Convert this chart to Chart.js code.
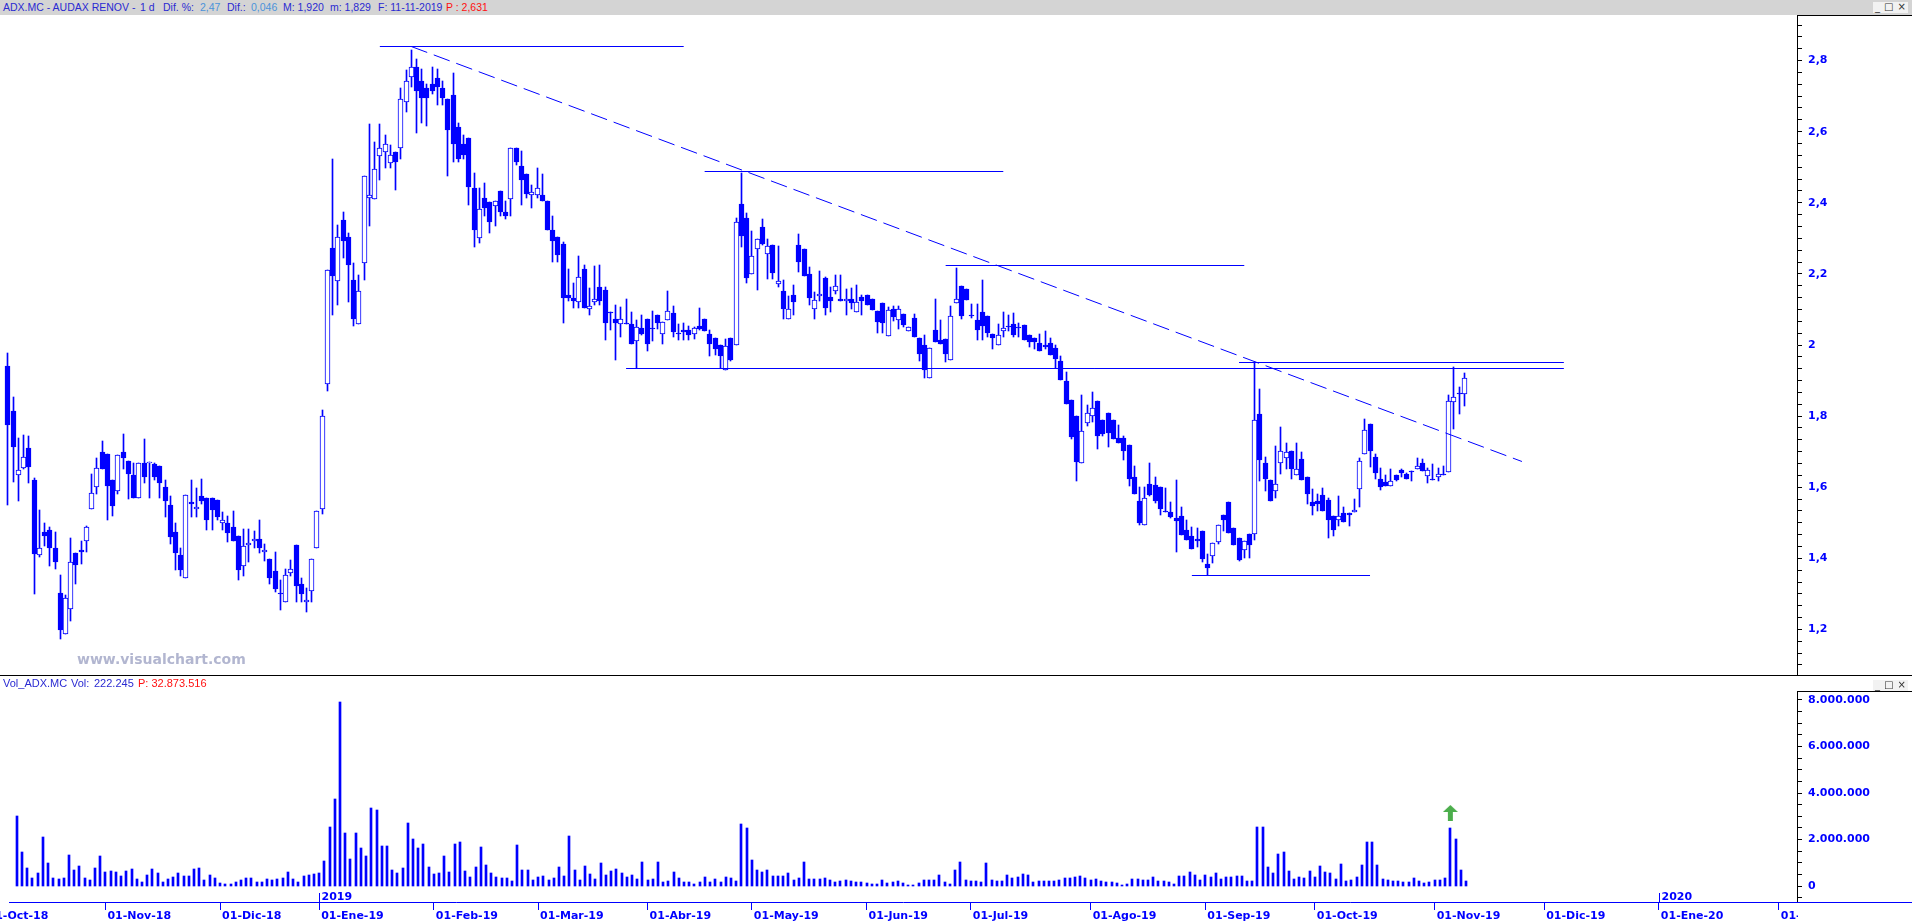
<!DOCTYPE html>
<html lang="es">
<head>
  <meta charset="UTF-8" />
  <title>ADX.MC - AUDAX RENOV</title>
  <script src="https://cdn.jsdelivr.net/npm/chart.js"></script>
  <style>
    html, body { margin: 0; padding: 0; background: #fff; }
    body { position: relative; width: 1912px; height: 922px; overflow: hidden; font-family: "Liberation Sans", Arial, sans-serif; }
    .head { position: absolute; left: 0; width: 1912px; height: 15px; font-size: 10.5px; line-height: 15px; white-space: pre; color: #2a2ad2; }
    .head span { position: absolute; top: 0; }
    #priceHead { top: 0; background: #d4d4d4; }
    #volHead { top: 676px; font-size: 11px; }
    .head .v { color: #4b93da; }
    .head .r { color: #ff1010; }
    .btns { position: absolute; left: 1873px; width: 35px; height: 11px; background: #f2f2f2; color: #333;
            font: 10px "DejaVu Sans", sans-serif; line-height: 10px; display: flex; justify-content: space-around; }
    canvas { position: absolute; left: 0; }
    #price { top: 15px; }
    #vol { top: 676px; }
    #sep { position: absolute; left: 0; top: 675px; width: 1912px; height: 1px; background: #000; }
    #mark { position: absolute; left: 77px; top: 651px; font: bold 14px "DejaVu Sans", sans-serif; color: #b2b6d0; }
  </style>
</head>
<body>
  <div id="priceHead" class="head">
    <span style="left:3px">ADX.MC - AUDAX RENOV -</span>
    <span style="left:140px">1 d</span>
    <span style="left:163px">Dif. %:</span>
    <span class="v" style="left:200px">2,47</span>
    <span style="left:227px">Dif.:</span>
    <span class="v" style="left:251px">0,046</span>
    <span style="left:283px">M: 1,920</span>
    <span style="left:330px">m: 1,829</span>
    <span style="left:378px">F: 11-11-2019</span>
    <span class="r" style="left:446px">P : 2,631</span>
  </div>
  <div class="btns" style="top:2px"><span>_</span><span>□</span><span>×</span></div>
  <canvas id="price" width="1912" height="660"></canvas>
  <div id="sep"></div>
  <canvas id="vol" width="1912" height="246"></canvas>
  <div id="volHead" class="head">
    <span style="left:3px">Vol_ADX.MC</span>
    <span style="left:71px">Vol:</span>
    <span style="left:94px">222.245</span>
    <span class="r" style="left:138px">P: 32.873.516</span>
  </div>
  <div class="btns" style="top:680px"><span>_</span><span>□</span><span>×</span></div>
  <div id="mark">www.visualchart.com</div>

  <script>
    const BLUE = '#0000ff';
    const MESES = ['Ene', 'Feb', 'Mar', 'Abr', 'May', 'Jun', 'Jul', 'Ago', 'Sep', 'Oct', 'Nov', 'Dic'];

    // sesiones del mercado continuo (festivos sin sesion) y dias laborables futuros
    const festivos = ['2018-12-25', '2018-12-26', '2019-01-01', '2019-04-19', '2019-04-22', '2019-05-01'];
    const dates = [];
    for (let d = new Date(Date.UTC(2018, 9, 1)); d <= new Date(Date.UTC(2020, 1, 6)); d.setUTCDate(d.getUTCDate() + 1)) {
      const iso = d.toISOString().slice(0, 10);
      const wd = d.getUTCDay();
      if (wd === 0 || wd === 6 || festivos.includes(iso)) continue;
      dates.push(iso);
    }
    const firstSession = '2018-10-09';
    const viewFrom = '2018-10-08';
    const viewTo = '2020-02-06';

    // velas diarias 09-10-2018 .. 11-11-2019
    const open = [
      1.942,1.815,1.634,1.654,1.710,1.621,1.408,1.475,1.480,1.429,
      1.303,1.186,1.257,1.415,1.424,1.448,1.538,1.600,1.700,1.694,
      1.621,1.588,1.700,1.675,1.635,1.569,1.668,1.667,1.666,1.660,
      1.601,1.551,1.475,1.410,1.346,1.559,1.538,1.575,1.569,1.569,
      1.564,1.499,1.500,1.488,1.463,1.378,1.437,1.448,1.455,1.417,
      1.398,1.365,1.302,1.276,1.358,1.437,1.327,1.276,1.308,1.429,
      1.538,1.891,2.272,2.179,2.352,2.303,2.182,2.059,2.231,2.413,
      2.411,2.533,2.544,2.513,2.544,2.553,2.684,2.753,2.783,2.743,
      2.724,2.733,2.752,2.724,2.693,2.704,2.614,2.564,2.583,2.443,
      2.302,2.413,2.403,2.392,2.432,2.373,2.412,2.553,2.503,2.482,
      2.423,2.423,2.423,2.404,2.323,2.303,2.283,2.141,2.131,2.122,
      2.213,2.102,2.122,2.162,2.154,2.092,2.072,2.060,2.061,2.060,
      2.012,2.049,2.072,2.048,2.083,2.031,2.069,2.091,2.034,2.041,
      2.041,2.031,2.054,2.074,2.031,2.020,2.000,1.930,2.020,2.000,
      2.396,2.358,2.200,2.271,2.333,2.257,2.282,2.172,2.153,2.074,
      2.142,2.282,2.271,2.200,2.101,2.138,2.189,2.136,2.153,2.130,
      2.124,2.130,2.093,2.134,2.142,2.130,2.096,2.119,2.026,2.101,
      2.070,2.088,2.040,2.076,2.020,2.000,1.907,2.043,2.015,2.017,
      1.958,2.119,2.167,2.158,2.083,2.071,2.093,2.082,2.031,2.000,
      2.040,2.054,2.060,2.049,2.057,2.029,2.020,2.006,2.001,2.006,
      1.992,1.954,1.900,1.844,1.801,1.668,1.781,1.800,1.843,1.789,
      1.809,1.789,1.739,1.739,1.719,1.629,1.562,1.493,1.610,1.606,
      1.601,1.531,1.530,1.514,1.519,1.481,1.463,1.454,1.477,1.385,
      1.406,1.447,1.522,1.558,1.486,1.458,1.422,1.469,1.468,1.807,
      1.669,1.621,1.589,1.668,1.682,1.703,1.634,1.680,1.630,1.559,
      1.562,1.578,1.565,1.520,1.508,1.527,1.527,1.530,1.596,1.693,
      1.778,1.685,1.624,1.615,1.603,1.634,1.648,1.637,1.645,1.651,
      1.668,1.631,1.620,1.629,1.637,1.643,1.840,1.862,1.861
    ];
    const high = [
      1.977,1.853,1.738,1.748,1.745,1.625,1.537,1.500,1.489,1.475,
      1.354,1.297,1.458,1.415,1.449,1.492,1.637,1.683,1.731,1.694,
      1.621,1.691,1.751,1.675,1.669,1.668,1.737,1.672,1.669,1.660,
      1.621,1.576,1.500,1.429,1.578,1.621,1.599,1.624,1.569,1.569,
      1.564,1.531,1.520,1.533,1.463,1.483,1.483,1.476,1.508,1.440,
      1.398,1.418,1.339,1.370,1.396,1.437,1.345,1.317,1.398,1.533,
      1.818,2.212,2.522,2.338,2.373,2.314,2.232,2.198,2.474,2.621,
      2.570,2.621,2.590,2.562,2.544,2.722,2.773,2.831,2.804,2.776,
      2.733,2.783,2.776,2.743,2.693,2.764,2.625,2.592,2.583,2.483,
      2.442,2.455,2.403,2.404,2.432,2.404,2.553,2.553,2.545,2.482,
      2.451,2.499,2.482,2.404,2.362,2.303,2.291,2.213,2.174,2.249,
      2.224,2.159,2.221,2.224,2.162,2.092,2.112,2.108,2.128,2.092,
      2.069,2.083,2.072,2.097,2.083,2.065,2.151,2.110,2.059,2.061,
      2.054,2.052,2.103,2.074,2.041,2.020,2.000,2.017,2.020,2.357,
      2.483,2.372,2.320,2.299,2.353,2.299,2.282,2.279,2.182,2.137,
      2.169,2.312,2.271,2.220,2.149,2.209,2.192,2.164,2.198,2.198,
      2.157,2.160,2.170,2.140,2.142,2.130,2.096,2.119,2.107,2.110,
      2.109,2.088,2.051,2.088,2.020,2.029,1.992,2.130,2.071,2.017,
      2.110,2.217,2.167,2.158,2.116,2.116,2.182,2.082,2.031,2.058,
      2.094,2.085,2.089,2.062,2.057,2.029,2.020,2.031,2.040,2.020,
      2.000,1.970,1.923,1.844,1.801,1.858,1.831,1.869,1.843,1.789,
      1.809,1.789,1.775,1.743,1.719,1.659,1.601,1.600,1.669,1.629,
      1.601,1.599,1.558,1.621,1.545,1.508,1.487,1.485,1.477,1.412,
      1.443,1.493,1.522,1.558,1.486,1.458,1.448,1.469,1.952,1.877,
      1.686,1.621,1.717,1.768,1.724,1.703,1.724,1.700,1.630,1.596,
      1.581,1.599,1.569,1.520,1.576,1.543,1.527,1.568,1.683,1.792,
      1.778,1.693,1.655,1.634,1.652,1.634,1.652,1.640,1.645,1.682,
      1.680,1.654,1.665,1.654,1.661,1.858,1.939,1.881,1.920
    ];
    const low = [
      1.551,1.616,1.560,1.650,1.611,1.301,1.405,1.435,1.379,1.371,
      1.174,1.186,1.225,1.329,1.385,1.419,1.538,1.580,1.650,1.509,
      1.520,1.580,1.650,1.566,1.571,1.569,1.611,1.571,1.621,1.571,
      1.515,1.439,1.366,1.349,1.346,1.515,1.515,1.552,1.480,1.480,
      1.508,1.480,1.445,1.449,1.340,1.349,1.391,1.430,1.415,1.393,
      1.329,1.304,1.256,1.276,1.350,1.276,1.277,1.250,1.278,1.429,
      1.525,1.872,2.084,2.112,2.245,2.122,2.053,2.059,2.183,2.335,
      2.411,2.464,2.497,2.497,2.435,2.524,2.656,2.725,2.596,2.625,
      2.615,2.705,2.676,2.676,2.475,2.516,2.516,2.524,2.393,2.275,
      2.286,2.363,2.315,2.335,2.363,2.355,2.363,2.505,2.394,2.414,
      2.385,2.414,2.405,2.324,2.233,2.233,2.062,2.125,2.103,2.103,
      2.104,2.085,2.112,2.112,2.014,2.042,1.958,2.022,2.058,2.002,
      1.934,2.028,1.983,2.012,2.044,2.002,2.069,2.022,2.015,2.014,
      2.015,2.016,2.043,2.039,1.969,1.971,1.934,1.930,1.954,2.000,
      2.277,2.175,2.200,2.155,2.282,2.185,2.185,2.163,2.073,2.074,
      2.084,2.206,2.195,2.112,2.073,2.123,2.084,2.092,2.143,2.124,
      2.084,2.101,2.093,2.084,2.113,2.098,2.033,2.033,2.026,2.067,
      2.045,2.050,2.040,2.023,1.954,1.907,1.907,2.008,2.003,1.952,
      1.958,2.119,2.073,2.126,2.075,2.015,2.015,2.022,1.988,2.000,
      2.022,2.039,2.022,2.022,2.015,1.994,1.988,1.983,1.988,1.971,
      1.935,1.902,1.834,1.735,1.617,1.668,1.772,1.784,1.707,1.743,
      1.712,1.735,1.723,1.676,1.602,1.580,1.495,1.493,1.574,1.555,
      1.521,1.529,1.512,1.419,1.465,1.451,1.425,1.433,1.391,1.352,
      1.387,1.440,1.477,1.471,1.437,1.393,1.400,1.400,1.451,1.618,
      1.590,1.560,1.571,1.637,1.651,1.622,1.634,1.619,1.552,1.521,
      1.532,1.532,1.457,1.462,1.491,1.502,1.491,1.530,1.543,1.693,
      1.656,1.623,1.591,1.602,1.603,1.617,1.629,1.622,1.617,1.651,
      1.647,1.611,1.619,1.617,1.634,1.643,1.764,1.806,1.829
    ];
    const close = [
      1.776,1.712,1.648,1.685,1.656,1.412,1.429,1.462,1.430,1.391,
      1.199,1.288,1.390,1.381,1.419,1.488,1.584,1.654,1.650,1.602,
      1.546,1.691,1.681,1.636,1.571,1.668,1.630,1.669,1.630,1.611,
      1.560,1.461,1.416,1.366,1.578,1.552,1.544,1.560,1.507,1.535,
      1.515,1.507,1.470,1.449,1.366,1.434,1.444,1.454,1.430,1.423,
      1.346,1.315,1.300,1.353,1.370,1.323,1.301,1.282,1.398,1.533,
      1.801,2.212,2.195,2.303,2.293,2.224,2.073,2.153,2.474,2.422,
      2.494,2.553,2.564,2.534,2.516,2.693,2.743,2.783,2.715,2.695,
      2.695,2.715,2.725,2.695,2.605,2.566,2.523,2.535,2.444,2.324,
      2.383,2.384,2.345,2.404,2.374,2.363,2.553,2.516,2.465,2.425,
      2.431,2.443,2.405,2.324,2.293,2.254,2.132,2.132,2.123,2.192,
      2.104,2.110,2.130,2.124,2.062,2.090,2.062,2.072,2.059,2.002,
      2.051,2.030,2.002,2.046,2.062,2.065,2.096,2.036,2.031,2.037,
      2.029,2.048,2.046,2.039,2.002,1.988,1.969,1.998,1.957,2.347,
      2.307,2.189,2.251,2.299,2.285,2.279,2.202,2.181,2.101,2.101,
      2.121,2.233,2.195,2.132,2.127,2.144,2.105,2.124,2.167,2.124,
      2.130,2.119,2.121,2.124,2.113,2.098,2.064,2.061,2.099,2.078,
      2.101,2.056,2.051,2.023,1.974,1.929,1.992,2.008,2.003,1.974,
      2.082,2.130,2.082,2.126,2.081,2.043,2.054,2.033,2.019,2.029,
      2.048,2.050,2.028,2.047,2.015,2.008,2.008,1.983,1.993,1.971,
      1.960,1.902,1.834,1.740,1.670,1.758,1.809,1.823,1.743,1.750,
      1.752,1.735,1.723,1.701,1.622,1.580,1.500,1.569,1.579,1.560,
      1.540,1.530,1.515,1.506,1.465,1.451,1.425,1.448,1.398,1.372,
      1.443,1.493,1.509,1.471,1.437,1.396,1.448,1.437,1.789,1.676,
      1.622,1.560,1.609,1.703,1.699,1.651,1.651,1.619,1.580,1.546,
      1.554,1.532,1.509,1.481,1.520,1.502,1.521,1.536,1.673,1.760,
      1.702,1.640,1.600,1.602,1.617,1.619,1.640,1.622,1.644,1.660,
      1.647,1.648,1.619,1.637,1.634,1.843,1.855,1.861,1.908
    ];
    // volumen en millones de titulos
    const volumeM = [
      3.01,1.46,0.77,0.34,0.56,2.11,0.99,0.34,0.30,0.34,
      1.33,0.69,0.86,0.34,0.26,0.77,1.29,0.60,0.65,0.60,
      0.43,0.65,0.73,0.30,0.17,0.47,0.73,0.56,0.17,0.30,
      0.39,0.56,0.43,0.43,0.73,0.77,0.26,0.47,0.34,0.13,
      0.09,0.09,0.17,0.26,0.34,0.34,0.17,0.17,0.30,0.26,
      0.30,0.34,0.60,0.30,0.17,0.43,0.47,0.52,0.56,1.08,
      2.54,3.74,7.92,2.28,1.16,2.28,1.64,1.29,3.36,3.27,
      1.72,1.72,0.69,0.56,0.77,2.71,2.02,1.64,1.81,0.82,
      0.52,0.56,1.29,0.60,1.81,1.89,0.65,0.39,0.82,1.68,
      0.90,0.56,0.39,0.34,0.34,0.22,1.76,0.69,0.69,0.26,
      0.39,0.43,0.26,0.34,0.82,0.43,2.15,0.69,0.26,0.86,
      0.52,0.30,0.99,0.47,0.65,0.73,0.56,0.39,0.47,0.30,
      1.03,0.26,0.30,1.03,0.17,0.22,0.60,0.34,0.17,0.17,
      0.09,0.17,0.39,0.17,0.30,0.17,0.39,0.34,0.22,2.67,
      2.50,1.12,0.69,0.60,0.69,0.43,0.43,0.43,0.56,0.26,
      0.34,1.03,0.30,0.30,0.30,0.34,0.26,0.17,0.22,0.26,
      0.22,0.17,0.17,0.13,0.09,0.09,0.26,0.13,0.17,0.22,
      0.13,0.04,0.04,0.13,0.26,0.26,0.26,0.47,0.17,0.09,
      0.69,1.03,0.26,0.22,0.22,0.17,0.99,0.26,0.22,0.22,
      0.47,0.34,0.39,0.52,0.47,0.17,0.22,0.22,0.22,0.22,
      0.26,0.34,0.34,0.39,0.43,0.34,0.26,0.30,0.22,0.17,
      0.17,0.13,0.04,0.09,0.30,0.30,0.26,0.26,0.39,0.22,
      0.22,0.17,0.09,0.43,0.43,0.60,0.47,0.26,0.47,0.39,
      0.56,0.30,0.39,0.39,0.43,0.43,0.22,0.22,2.54,2.54,
      0.82,0.56,1.38,1.46,0.65,0.30,0.39,0.34,0.65,0.39,
      0.86,0.60,0.56,0.30,0.95,0.22,0.26,0.39,0.90,1.89,
      1.89,0.90,0.30,0.26,0.22,0.22,0.17,0.17,0.34,0.22,
      0.13,0.17,0.26,0.26,0.34,2.50,2.02,0.69,0.222
    ];

    // lineas dibujadas sobre el grafico
    const levelFrom  = ['2019-01-21', '2019-04-17', '2019-06-25', '2019-03-27', '2019-09-11', '2019-08-29'];
    const levelTo    = ['2019-04-11', '2019-07-10', '2019-09-12', '2019-12-06', '2019-12-06', '2019-10-16'];
    const levelValue = [2.840, 2.489, 2.224, 1.933, 1.950, 1.352];
    const trendDates  = ['2019-01-29', '2019-11-26'];
    const trendValues = [2.840, 1.671];
    const arrowDate = '2019-11-06';
    const arrowLevel = 3.14e6;

    // ejes
    const priceRange = [1.0718, 2.9282];
    const priceTickValues = [1.2, 1.4, 1.6, 1.8, 2, 2.2, 2.4, 2.6, 2.8];
    const priceTickLabels = ['1,2', '1,4', '1,6', '1,8', '2', '2,2', '2,4', '2,6', '2,8'];
    const priceMinorPerMajor = 6;
    const volRange = [-0.688e6, 8.387e6];
    const volTickValues = [0, 2e6, 4e6, 6e6, 8e6];
    const volTickLabels = ['0', '2.000.000', '4.000.000', '6.000.000', '8.000.000'];
    const volMinorPerMajor = 4;

    const AXIS_FONT = { family: '"DejaVu Sans", sans-serif', size: 11, weight: 'bold' };
    Chart.defaults.font.family = '"DejaVu Sans", sans-serif';

    const x0 = dates.indexOf(firstSession);
    const xMin = dates.indexOf(viewFrom) - 0.5;
    const xMax = dates.indexOf(viewTo) + 0.5;

    const monthStarts = [];
    dates.forEach((d, i) => {
      if (i === 0 || d.slice(5, 7) !== dates[i - 1].slice(5, 7)) monthStarts.push(i);
    });
    const yearStarts = monthStarts.filter(i => dates[i].slice(5, 7) === '01');
    function monthLabel(v) {
      const d = dates[Math.round(v)];
      return d ? '01-' + MESES[+d.slice(5, 7) - 1] + '-' + d.slice(2, 4) : '';
    }

    function tickSet(range, values, perMajor) {
      const step = (values[1] - values[0]) / perMajor;
      const out = [];
      for (let k = Math.ceil(range[0] / step - 1e-9); k * step <= range[1] + 1e-9; k++) out.push({ value: k * step });
      return out;
    }
    function tickText(values, labels, v) {
      const step = values[1] - values[0];
      const i = values.findIndex(t => Math.abs(t - v) < step * 1e-4);
      return i < 0 ? '' : labels[i];
    }
    // el eje vertical ocupa la franja derecha completa, sin margenes extra
    function fitRightAxis(s) {
      s.width = 115;
      s.paddingTop = 0;
      s.paddingBottom = 0;
    }

    // ajusta barras y lineas a la rejilla de pixeles para trazos nitidos
    const snap = {
      id: 'snap',
      afterDatasetsUpdate(chart) {
        chart.data.datasets.forEach((ds, di) => {
          const meta = chart.getDatasetMeta(di);
          if (meta.type === 'bar') {
            const odd = ds.barThickness % 2 === 1;
            meta.data.forEach(el => {
              el.x = odd ? Math.floor(el.x) + 0.5 : Math.round(el.x);
              let top = Math.round(el.y), base = Math.round(el.base);
              if (top === base) base = top + 1;
              el.y = top; el.base = base;
            });
          } else if (meta.type === 'line') {
            meta.data.forEach(el => { el.y = Math.floor(el.y) + 0.5; });
          }
        });
      }
    };

    // marco superior del eje vertical
    const axisFrame = {
      id: 'axisFrame',
      afterDraw(chart) {
        const { ctx, chartArea } = chart;
        ctx.save();
        ctx.strokeStyle = '#000';
        ctx.lineWidth = 1;
        ctx.beginPath();
        ctx.moveTo(chartArea.right, chartArea.top + 0.5);
        ctx.lineTo(chart.width, chartArea.top + 0.5);
        ctx.stroke();
        ctx.restore();
      }
    };

    // recorte de fechas bajo el eje, linea inferior y marcas de año
    const volDecor = {
      id: 'volDecor',
      afterDraw(chart) {
        const { ctx, chartArea, scales } = chart;
        ctx.save();
        ctx.fillStyle = '#fff';
        ctx.fillRect(chartArea.right + 1, chartArea.bottom + 1, chart.width, chart.height);
        ctx.strokeStyle = BLUE;
        ctx.lineWidth = 1;
        ctx.beginPath();
        ctx.moveTo(chartArea.right, chartArea.bottom + 0.5);
        ctx.lineTo(chart.width, chartArea.bottom + 0.5);
        ctx.stroke();
        ctx.fillStyle = BLUE;
        ctx.font = 'bold 11px "DejaVu Sans", sans-serif';
        ctx.textBaseline = 'alphabetic';
        yearStarts.forEach(i => {
          const px = Math.round(scales.x.getPixelForValue(i)) + 0.5;
          ctx.beginPath();
          ctx.moveTo(px, chartArea.bottom);
          ctx.lineTo(px, chartArea.bottom - 9);
          ctx.stroke();
          ctx.fillText(dates[i].slice(0, 4), px + 2, chartArea.bottom - 2);
        });
        ctx.restore();
      }
    };

    const xHidden = { type: 'linear', min: xMin, max: xMax, offset: false, display: false, grid: { offset: false } };

    const lineSets = levelValue.map((v, i) => ({
      type: 'line',
      data: [{ x: dates.indexOf(levelFrom[i]), y: v }, { x: dates.indexOf(levelTo[i]), y: v }],
      borderColor: BLUE, borderWidth: 1, pointRadius: 0, fill: false, order: 0
    }));
    lineSets.push({
      type: 'line',
      data: trendDates.map((d, i) => ({ x: dates.indexOf(d), y: trendValues[i] })),
      borderColor: BLUE, borderWidth: 1, borderDash: [17, 7], pointRadius: 0, fill: false, order: 0
    });

    new Chart(document.getElementById('price'), {
      type: 'bar',
      data: {
        datasets: [
          ...lineSets,
          {
            label: 'Cuerpo',
            data: open.map((o, i) => ({ x: x0 + i, y: [o, close[i]] })),
            backgroundColor: open.map((o, i) => close[i] >= o ? '#ffffff' : BLUE),
            borderColor: BLUE, borderWidth: 1, borderSkipped: false,
            barThickness: 5, grouped: false, minBarLength: 1, order: 1
          },
          {
            label: 'Mecha',
            data: open.map((o, i) => ({ x: x0 + i, y: [low[i], high[i]] })),
            backgroundColor: BLUE, borderWidth: 0,
            barThickness: 1, grouped: false, order: 2
          }
        ]
      },
      options: {
        responsive: false,
        animation: false,
        events: [],
        layout: { padding: 0 },
        plugins: { legend: { display: false }, tooltip: { enabled: false } },
        scales: {
          x: xHidden,
          y: {
            position: 'right', min: priceRange[0], max: priceRange[1],
            afterFit: fitRightAxis,
            afterBuildTicks: s => { s.ticks = tickSet(priceRange, priceTickValues, priceMinorPerMajor); },
            ticks: {
              autoSkip: false, padding: 6, color: BLUE, font: AXIS_FONT,
              callback: v => tickText(priceTickValues, priceTickLabels, v)
            },
            grid: { drawOnChartArea: false, tickLength: 5, color: '#000' },
            border: { display: true, color: '#000', width: 1 }
          }
        }
      },
      plugins: [snap, axisFrame]
    });

    const arrow = document.createElement('canvas');
    arrow.width = 15; arrow.height = 16;
    const a = arrow.getContext('2d');
    a.fillStyle = '#4cae4c';
    a.beginPath();
    a.moveTo(7.5, 0); a.lineTo(15, 7); a.lineTo(10, 7); a.lineTo(10, 16);
    a.lineTo(5, 16); a.lineTo(5, 7); a.lineTo(0, 7); a.closePath();
    a.fill();

    new Chart(document.getElementById('vol'), {
      type: 'bar',
      data: {
        datasets: [
          {
            type: 'scatter',
            data: [{ x: dates.indexOf(arrowDate), y: arrowLevel }],
            pointStyle: arrow, pointRadius: 8, order: 0
          },
          {
            label: 'Volumen',
            data: volumeM.map((v, i) => ({ x: x0 + i, y: v * 1e6 })),
            backgroundColor: BLUE, borderWidth: 0,
            barThickness: 2, grouped: false, order: 1
          }
        ]
      },
      options: {
        responsive: false,
        animation: false,
        events: [],
        layout: { padding: { top: 15, left: 0, right: 0, bottom: 0 } },
        plugins: { legend: { display: false }, tooltip: { enabled: false } },
        scales: {
          x: {
            type: 'linear', min: xMin, max: xMax, offset: false,
            afterBuildTicks: s => { s.ticks = monthStarts.map(v => ({ value: v })); },
            afterFit: s => { s.height = 20; s.paddingLeft = 0; s.paddingRight = 0; },
            ticks: {
              autoSkip: false, maxRotation: 0, minRotation: 0, align: 'start',
              labelOffset: 2, padding: 0, color: BLUE, font: AXIS_FONT,
              callback: v => monthLabel(v)
            },
            grid: { offset: false, drawOnChartArea: false, tickLength: 8, color: BLUE },
            border: { display: true, color: BLUE, width: 1 }
          },
          y: {
            position: 'right', min: volRange[0], max: volRange[1],
            afterFit: fitRightAxis,
            afterBuildTicks: s => { s.ticks = tickSet(volRange, volTickValues, volMinorPerMajor); },
            ticks: {
              autoSkip: false, padding: 6, color: BLUE, font: AXIS_FONT,
              callback: v => tickText(volTickValues, volTickLabels, v)
            },
            grid: { drawOnChartArea: false, tickLength: 5, color: '#000' },
            border: { display: true, color: '#000', width: 1 }
          }
        }
      },
      plugins: [snap, axisFrame, volDecor]
    });
  </script>
</body>
</html>
